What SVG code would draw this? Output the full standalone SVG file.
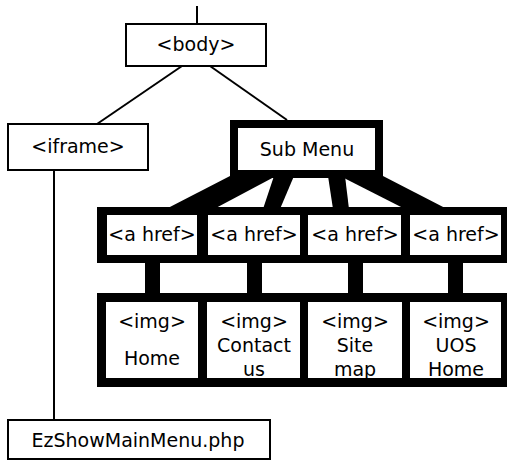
<svg xmlns="http://www.w3.org/2000/svg" width="508" height="462" viewBox="0 0 508 462">
<style>
.box{fill:#fff;stroke:#000;stroke-width:2}
.thick{fill:#fff;stroke:#000;stroke-width:8}
.in{fill:#fff}
.blk{fill:#000}
.ln{stroke:#000;stroke-width:2;fill:none}
text{font-family:"DejaVu Sans","Liberation Sans",sans-serif;font-size:19px;fill:#000;text-anchor:middle}
</style>
<rect width="508" height="462" fill="#fff"/>
<g id="connectors">
<line class="ln" x1="197" y1="6" x2="197" y2="24"/>
<line class="ln" x1="182" y1="66" x2="97" y2="124"/>
<line class="ln" x1="210" y1="66" x2="287" y2="120"/>
<line class="ln" x1="54" y1="170" x2="54" y2="420"/>
<polygon class="blk" points="230,176 276,176 214,209 166,209"/>
<polygon class="blk" points="274,176 294,176 280,209 263,209"/>
<polygon class="blk" points="328,176 345,176 349,209 333,209"/>
<polygon class="blk" points="340,176 383,176 447,209 405,209"/>
<rect class="blk" x="145" y="260" width="15" height="36"/>
<rect class="blk" x="247" y="260" width="15" height="36"/>
<rect class="blk" x="348" y="260" width="15" height="36"/>
<rect class="blk" x="448" y="260" width="15" height="36"/>
</g>
<g id="body">
<rect class="box" x="126" y="24" width="140" height="42"/>
<text x="196" y="51">&lt;body&gt;</text>
</g>
<g id="iframe">
<rect class="box" x="8" y="124" width="140" height="46"/>
<text x="78" y="153">&lt;iframe&gt;</text>
</g>
<g id="submenu">
<rect class="thick" x="234" y="124" width="145" height="50"/>
<text x="307" y="156">Sub Menu</text>
</g>
<g id="hrefRow">
<rect class="blk" x="97" y="207" width="410" height="56"/>
</g>
<g id="href1"><rect class="in" x="107" y="215" width="90" height="40"/><text x="152" y="241">&lt;a href&gt;</text></g>
<g id="href2"><rect class="in" x="208" y="215" width="92" height="40"/><text x="254" y="241">&lt;a href&gt;</text></g>
<g id="href3"><rect class="in" x="308" y="215" width="93" height="40"/><text x="355" y="241">&lt;a href&gt;</text></g>
<g id="href4"><rect class="in" x="410" y="215" width="91" height="40"/><text x="456" y="241">&lt;a href&gt;</text></g>
<g id="imgRow">
<rect class="blk" x="97" y="293" width="410" height="94"/>
</g>
<g id="img1"><rect class="in" x="106" y="302" width="92" height="76"/><text x="152" y="328">&lt;img&gt;</text><text x="152" y="365">Home</text></g>
<g id="img2"><rect class="in" x="207" y="302" width="93" height="76"/><text x="254" y="328">&lt;img&gt;</text><text x="254" y="352">Contact</text><text x="254" y="376">us</text></g>
<g id="img3"><rect class="in" x="308" y="302" width="94" height="76"/><text x="355" y="328">&lt;img&gt;</text><text x="355" y="352">Site</text><text x="355" y="376">map</text></g>
<g id="img4"><rect class="in" x="410" y="302" width="91" height="76"/><text x="456" y="328">&lt;img&gt;</text><text x="456" y="352">UOS</text><text x="456" y="376">Home</text></g>
<g id="php">
<rect class="box" x="8" y="420" width="262" height="39"/>
<text x="138" y="447">EzShowMainMenu.php</text>
</g>
</svg>
